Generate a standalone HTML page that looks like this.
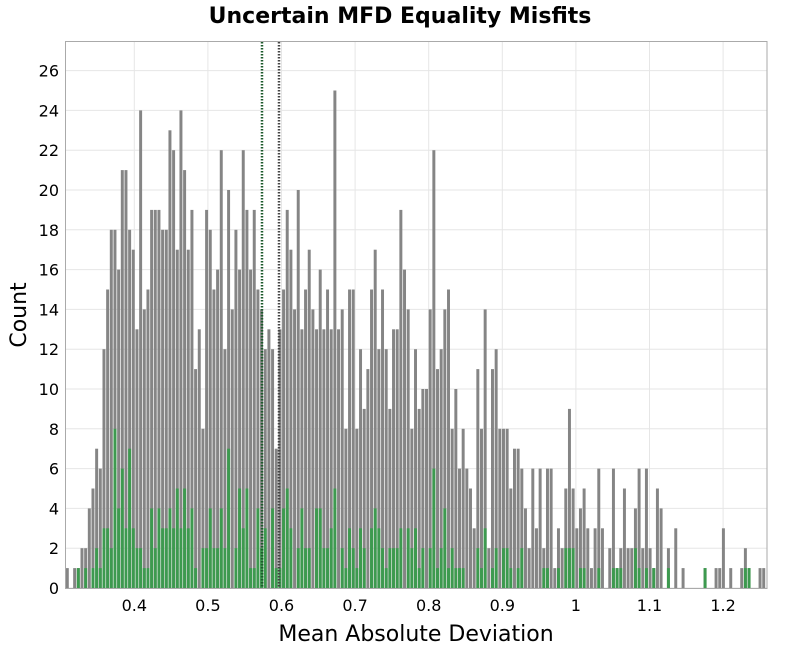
<!DOCTYPE html>
<html><head><meta charset="utf-8"><style>
body{margin:0;background:#fff;}
svg text{font-family:"DejaVu Sans","Liberation Sans",sans-serif;}
</style></head><body>
<svg id="chart" width="800" height="650" xmlns="http://www.w3.org/2000/svg">
<rect width="800" height="650" fill="#fff"/>
<text x="400" y="23" text-anchor="middle" font-size="22" font-weight="bold">Uncertain MFD Equality Misfits</text>
<g id="grid"></g><g id="bars"></g><g id="lines"></g><g id="axes"></g>
<rect x="65.5" y="41.5" width="701.5" height="547" fill="none" stroke="#aaa" stroke-width="1"/>
<text x="416" y="641" text-anchor="middle" font-size="22">Mean Absolute Deviation</text>
<text transform="translate(26,315) rotate(-90)" text-anchor="middle" font-size="22">Count</text>
</svg>
<script>
const allCounts=[1,0,1,1,2,2,4,5,7,6,12,15,18,18,16,21,21,18,17,13,24,14,15,19,19,19,18,18,
23,22,17,24,21,17,19,11,13,8,19,18,15,16,22,12,20,14,18,16,22,19,16,19,15,14,12,
13,12,7,13,15,19,17,14,20,13,15,17,14,13,16,13,15,13,25,13,14,8,15,15,8,12,9,
11,15,17,12,15,12,9,13,13,19,16,14,8,12,9,10,10,14,22,11,12,14,15,8,10,6,8,
6,5,3,11,8,14,2,11,12,8,8,8,5,7,7,6,4,2,6,3,6,2,6,6,1,3,2,
5,9,5,3,4,5,3,1,3,6,3,0,2,6,1,2,5,2,2,4,6,2,6,2,1,5,4,0,2,0,3,0,1,0,0,0,0,0,1,0,0,1,1,3,0,1,0,0,1,2,1,0,0,1,1];
const greenCounts=[0,0,0,1,0,1,0,1,2,1,3,3,2,8,4,6,3,7,3,2,2,1,1,4,2,4,3,3,
4,3,5,3,5,3,4,1,0,2,2,4,2,2,4,2,7,0,2,5,3,5,1,1,4,2,3,
0,4,1,1,4,5,3,0,2,4,2,2,0,4,4,2,2,3,5,0,2,1,3,2,1,3,2,
0,3,4,3,2,1,2,2,2,3,0,3,2,3,1,2,0,2,6,1,2,4,1,2,1,1,1,
0,0,0,2,1,3,0,1,2,0,2,2,1,0,1,2,0,0,0,0,0,1,1,0,0,1,0,
2,2,2,0,1,1,0,0,0,1,0,0,0,1,1,1,0,0,0,2,1,0,1,0,1,0,0,0,1,0,0,0,0,0,0,0,0,0,1,0,0,0,0,0,0,0,0,0,0,1,1,0,0,0,0];
const binStart=0.3065;
const binWidth=0.00498;
const meanLines=[0.5735,0.5966];
const xTicks=[0.4,0.5,0.6,0.7,0.8,0.9,1,1.1,1.2];
const xTickLabels=["0.4","0.5","0.6","0.7","0.8","0.9","1","1.1","1.2"];
const yTicks=[0,2,4,6,8,10,12,14,16,18,20,22,24,26];

const NS="http://www.w3.org/2000/svg";
const xS=v=>134.3+(v-0.4)*736;
const yS=v=>588-v*19.9;
function mk(tag,attrs,parent){const e=document.createElementNS(NS,tag);for(const k in attrs)e.setAttribute(k,attrs[k]);document.getElementById(parent).appendChild(e);return e;}
xTicks.forEach((t,i)=>{
  const g=mk('line',{x1:xS(t),x2:xS(t),y1:42,y2:588,stroke:'#e6e6e6'},'grid');
  
  
  const l=mk('text',{x:xS(t),y:611,'text-anchor':'middle','font-size':'16'},'axes');
  l.textContent=xTickLabels[i];
  
  
});
yTicks.forEach(t=>{
  const g=mk('line',{x1:66,x2:767,y1:yS(t),y2:yS(t),stroke:'#e6e6e6'},'grid');
  
  
  const l=mk('text',{x:59,y:yS(t)+6,'text-anchor':'end','font-size':'16'},'axes');
  l.textContent=String(t);
  
  
});
const bw=binWidth*736;
allCounts.forEach((c,i)=>{
  if(c<=0)return;
  const x=xS(binStart+i*binWidth);
  const r=mk('rect',{x:x+0.35,y:yS(c),width:bw-0.7,height:588-yS(c),fill:'#858585'},'bars');
  
  
});
greenCounts.forEach((c,i)=>{
  if(c<=0)return;
  const x=xS(binStart+i*binWidth);
  const r=mk('rect',{x:x+0.35,y:yS(c),width:bw-0.7,height:588-yS(c),fill:'#3d9a4f'},'bars');
  
  
});
const lc=['#1d5a2c','#444'];
meanLines.forEach((m,i)=>{
  const l=mk('line',{x1:xS(m),x2:xS(m),y1:42,y2:588,stroke:lc[i],'stroke-width':'2.5','stroke-dasharray':'1.5 1.5'},'lines');
  
  
});
</script>
</body></html>
